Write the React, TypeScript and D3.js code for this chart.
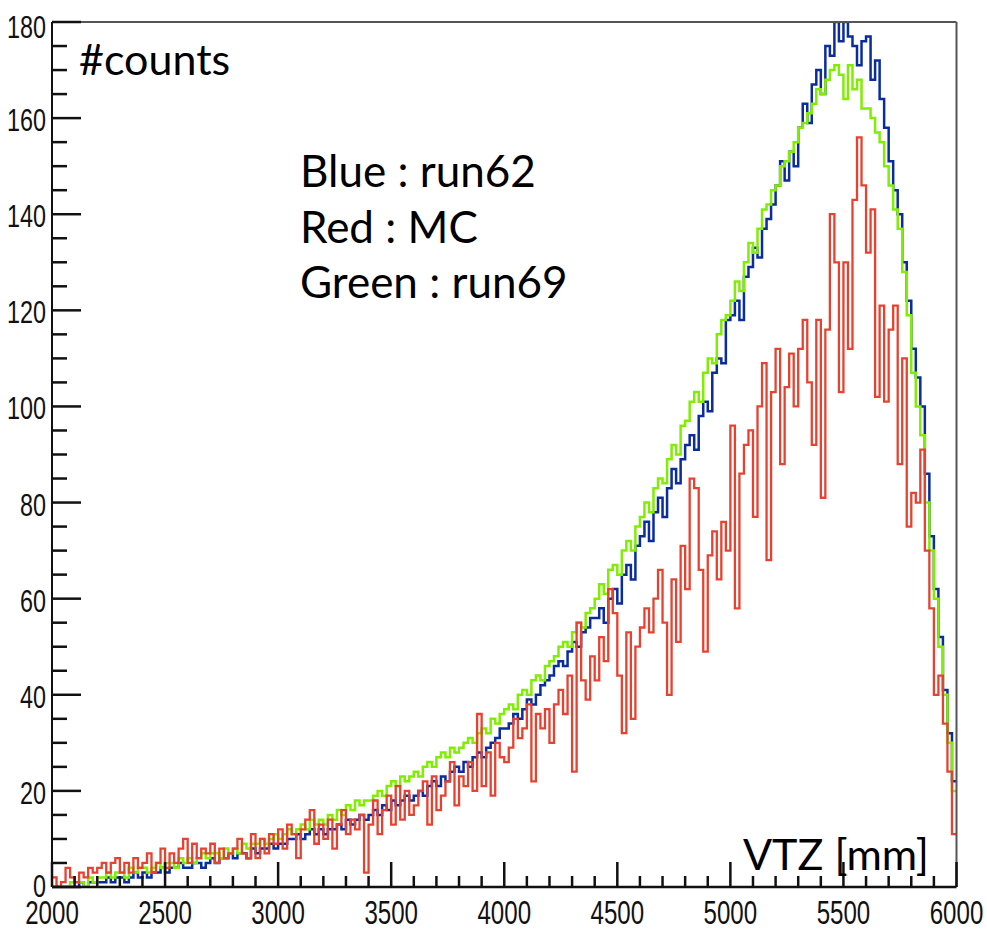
import React from "react";
import * as d3 from "d3";

// VTZ histograms: 200 bins of 20 mm from 2000 to 6000 mm
const xDomain = [2000, 6000];
const yDomain = [0, 180];
const binWidthMM = 20;
const xMajorTicks = [2000, 2500, 3000, 3500, 4000, 4500, 5000, 5500, 6000];
const yMajorTicks = [0, 20, 40, 60, 80, 100, 120, 140, 160, 180];

const blueRun62 = [
  0,0,0,0,0,0,1,0,1,1,
  1,1,2,1,2,2,1,2,3,2,
  3,2,3,3,4,3,4,4,5,4,
  4,5,5,4,5,6,5,6,6,7,
  6,7,7,6,8,7,8,8,9,8,
  9,9,10,10,11,10,11,12,11,12,
  11,12,12,13,12,14,13,14,15,14,
  15,16,15,17,16,18,17,18,19,18,
  19,20,19,21,22,21,23,22,24,25,
  24,26,25,27,28,27,29,30,31,33,
  33,34,36,35,37,39,38,40,42,43,
  44,46,47,46,49,51,50,53,54,56,
  56,58,55,60,62,59,65,67,64,71,
  73,76,72,78,81,77,83,87,84,89,
  92,94,91,98,101,99,107,110,109,118,
  119,122,118,127,129,133,131,137,139,142,
  146,151,147,153,150,158,163,159,167,170,
  165,175,173,180,176,180,177,175,171,176,
  177,168,172,164,158,151,145,140,130,122,
  112,106,100,86,73,62,52,41,32,22,
];

const greenRun69 = [
  0,0,0,0,1,1,1,0,2,1,
  2,2,3,2,3,3,2,4,3,4,
  4,3,4,5,4,5,5,4,6,5,
  6,5,6,7,6,7,7,6,8,7,
  8,7,9,8,9,9,10,9,10,11,
  10,11,12,11,12,13,12,14,13,14,
  13,15,14,16,15,17,16,18,17,18,
  18,19,20,19,21,22,21,23,22,23,
  24,23,25,26,25,27,28,27,29,28,
  29,30,31,30,32,33,32,35,34,36,
  37,38,37,40,41,40,43,44,43,46,
  47,48,50,51,50,53,55,54,57,58,
  60,63,61,66,67,65,70,72,70,75,
  77,80,78,83,85,84,89,92,90,96,
  97,101,103,101,107,110,109,115,118,119,
  122,126,124,130,134,132,137,141,142,145,
  146,150,151,153,155,158,159,161,163,166,
  165,168,170,171,169,164,171,166,168,162,
  162,160,157,155,150,146,141,137,128,119,
  107,100,94,80,70,60,50,40,30,20,
];

const redMC = [
  2,0,1,4,2,1,3,2,4,3,
  4,5,3,5,6,3,5,3,6,4,
  5,7,3,5,8,4,7,5,8,10,
  5,9,6,8,7,9,5,8,6,7,
  8,10,7,6,11,6,10,7,11,9,
  12,8,13,11,6,12,14,16,9,13,
  10,14,8,13,16,11,14,12,15,3,
  13,18,11,16,19,13,21,14,20,15,
  17,20,22,13,23,16,19,22,26,17,
  23,21,26,20,36,21,28,19,30,27,
  26,29,35,31,33,38,22,36,33,37,
  30,38,41,36,44,24,55,43,39,48,
  43,52,47,62,57,44,32,53,35,50,
  54,58,53,60,66,55,40,64,51,71,
  62,85,83,66,49,69,74,64,76,70,
  96,58,86,92,95,77,100,109,68,103,
  112,88,104,111,100,112,118,105,92,118,
  81,116,140,130,103,130,112,143,156,146,
  132,141,102,121,101,116,121,88,110,75,
  82,80,91,70,58,40,44,34,24,11,
];

const legendLines = ["Blue : run62", "Red : MC", "Green : run69"];
const yTitle = "#counts";
const xTitle = "VTZ [mm]";

const W = 987;
const H = 930;
const L = 52, R = 956.5, T = 22, B = 887;

export default function App() {
  const x = d3.scaleLinear().domain(xDomain).range([L, R]);
  const y = d3.scaleLinear().domain(yDomain).range([B, T]);

  const step = (vals: number[]) => {
    const pts: [number, number][] = vals.map((v, i) => [xDomain[0] + i * binWidthMM, v]);
    pts.push([xDomain[0] + vals.length * binWidthMM, vals[vals.length - 1]]);
    return d3
      .line<[number, number]>()
      .x((d) => x(d[0]))
      .y((d) => y(d[1]))
      .curve(d3.curveStepAfter)(pts) as string;
  };

  const yMinor = d3.range(yDomain[0], yDomain[1] + 0.1, 5).filter((v) => v % 20 !== 0);
  const xMinor = d3.range(xDomain[0], xDomain[1] + 1, 100).filter((v) => v % 500 !== 0);

  const tickFont = "'Liberation Sans', Arial, sans-serif";
  const annFont = "Lato, 'Open Sans', sans-serif";

  return (
    <svg
      width={W}
      height={H}
      style={{ position: "absolute", left: 0, top: 0, display: "block", background: "#fff" }}
    >
      <rect x={0} y={0} width={W} height={H} fill="#fff" />
      <defs>
        <clipPath id="frame">
          <rect x={L} y={T - 1} width={R - L} height={B - T + 1} />
        </clipPath>
      </defs>

      <g clipPath="url(#frame)" fill="none" strokeLinejoin="miter">
        <path d={step(blueRun62)} stroke="#0a2c9c" strokeWidth={2.5} />
        <path d={step(greenRun69)} stroke="#80ee00" strokeWidth={2.5} />
        <path d={step(redMC)} stroke="#e8412f" strokeWidth={2.3} />
      </g>

      {/* frame */}
      <line x1={L} x2={R} y1={T} y2={T} stroke="#555" strokeWidth={2} />
      <line x1={R} x2={R} y1={T} y2={B} stroke="#555" strokeWidth={2} />
      <line x1={L} x2={L} y1={T} y2={B} stroke="#111" strokeWidth={2} />
      <line x1={L} x2={R} y1={B} y2={B} stroke="#111" strokeWidth={2.5} />

      {/* y ticks */}
      {yMajorTicks.map((t) => (
        <line key={"ym" + t} x1={L} x2={L + 29} y1={y(t)} y2={y(t)} stroke="#111" strokeWidth={2.5} />
      ))}
      {yMinor.map((t) => (
        <line key={"yn" + t} x1={L} x2={L + 15} y1={y(t)} y2={y(t)} stroke="#111" strokeWidth={2.5} />
      ))}
      {yMajorTicks.map((t) => (
        <text
          key={"yl" + t}
          transform={`translate(46,${Math.min(Math.max(y(t) + 13, 38), 897)}) scale(0.73,1)`}
          textAnchor="end"
          fontFamily={tickFont}
          fontSize={32}
          fill="#111"
        >
          {t}
        </text>
      ))}

      {/* x ticks */}
      {xMajorTicks.map((t) => (
        <line key={"xm" + t} x1={x(t)} x2={x(t)} y1={B} y2={B - 25} stroke="#111" strokeWidth={2.5} />
      ))}
      {xMinor.map((t) => (
        <line key={"xn" + t} x1={x(t)} x2={x(t)} y1={B} y2={B - 11} stroke="#111" strokeWidth={2.5} />
      ))}
      {xMajorTicks.map((t) => (
        <text
          key={"xl" + t}
          transform={`translate(${x(t)},924) scale(0.73,1)`}
          textAnchor="middle"
          fontFamily={tickFont}
          fontSize={33}
          fill="#111"
        >
          {t}
        </text>
      ))}

      {/* annotations */}
      <text x={79} y={75} fontFamily={annFont} fontSize={43} fill="#000">
        {yTitle}
      </text>
      {legendLines.map((s, i) => (
        <text key={s} x={300} y={187 + i * 55.5} fontFamily={annFont} fontSize={44} fill="#000">
          {s}
        </text>
      ))}
      <text x={743} y={870} fontFamily={annFont} fontSize={43} fill="#000">
        {xTitle}
      </text>
    </svg>
  );
}
